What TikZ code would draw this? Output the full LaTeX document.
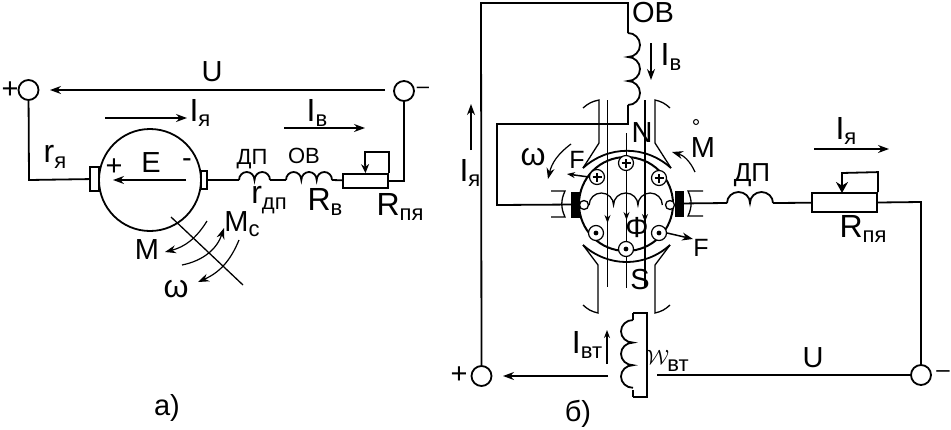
\documentclass[tikz,border=0pt]{standalone}
\usepackage{fontspec}
\setmainfont{Liberation Sans}
\usetikzlibrary{arrows.meta,positioning,calc}
\newcommand{\subtext}[1]{\raisebox{-5.5pt}{\fontsize{22}{22}\selectfont #1}}
\tikzset{
	wire/.style={line width=1.8pt},
	thinline/.style={line width=1.3pt},
	flow/.style={line width=1.2pt, -{Stealth[length=11pt,width=8pt]}},
	flowsmall/.style={line width=1.1pt, -{Stealth[length=8pt,width=6pt]}},
	%
	terminal/.style={
		circle, draw, line width=1.8pt, minimum size=20pt, inner sep=0pt
	},
	brush/.style={
		rectangle, draw, line width=1.6pt, fill=white, inner sep=0pt
	},
	blackbrush/.style={
		rectangle, draw, fill=black, inner sep=0pt, minimum width=8pt, minimum height=25pt
	},
	rheostat/.style={
		rectangle, draw, line width=1.8pt, inner sep=0pt
	},
	conductor/.style={
		circle, draw, line width=1.2pt, minimum size=15pt, inner sep=0pt
	},
	ringnode/.style={
		circle, draw, line width=1.3pt, minimum size=9pt, inner sep=0pt, fill=white
	},
	mylabel/.style={inner sep=0pt, font=\fontsize{29}{31}\selectfont},
	biglabel/.style={inner sep=0pt, font=\fontsize{32}{34}\selectfont},
	smalllabel/.style={inner sep=0pt, font=\fontsize{22}{24}\selectfont},
	forcelabel/.style={inner sep=0pt, font=\fontsize{25}{27}\selectfont}
}
\begin{document}
\begin{tikzpicture}[x=1pt,y=1pt]
    \useasboundingbox (0,0) rectangle (951,-429);
    % a) scheme
    \node(plusA)[terminal] at (28.5,-90) {};
    \node(minusA)[terminal] at (404,-91) {};
    \node(motor)[circle, draw, line width=1.8pt, minimum size=102pt, inner sep=0pt] at (150,-180) {};
    \node(brushAl)[brush, minimum width=9pt, minimum height=24pt] at (94.5,-179) {};
    \node(brushAr)[brush, minimum width=6pt, minimum height=18pt] at (204,-180) {};
    \node(rheoA)[rheostat, minimum width=45pt, minimum height=14pt] at (365.5,-181) {};
    \coordinate(cornerAl) at (29,-180);
    \coordinate(cornerAr) at (404,-181);
    \coordinate(dpAin) at (239,-180);
    \coordinate(dpAout) at (270,-180);
    \coordinate(ovAin) at (286,-180);
    \coordinate(ovAout) at (332,-180);
    \coordinate(uAstart) at (385,-90);
    \coordinate(uAend) at (50,-90);
    \draw[wire] (plusA) -- (cornerAl) -- (brushAl);
    \draw[wire] (brushAr) -- (dpAin);
    \draw[wire] (dpAin) foreach \i in {1,2} {arc[start angle=180, end angle=0, x radius=7.75, y radius=8]};
    \draw[wire] (dpAout) -- (ovAin);
    \draw[wire] (ovAin) foreach \i in {1,2,3} {arc[start angle=180, end angle=0, x radius=7.67, y radius=8]};
    \draw[wire] (ovAout) -- (rheoA);
    \draw[wire] (rheoA) -- (cornerAr) -- (minusA);
    \draw[wire] (rheoA.north east) -- ++(0,21) -| (365,-165);
    \draw[-{Stealth[length=9pt,width=8pt]}, wire] (365,-162) -- (rheoA.north);
    \draw[flow] (uAstart) -- (uAend);
    \draw[flow] (105,-118) -- (187,-118);
    \draw[flow] (284,-128) -- (365,-128);
    \draw[flow] (186,-180) -- (113,-180);
    \draw[thinline] (171,-217) -- (243,-285);
    \draw[flow] (207,-221) to[bend left=22] (165,-252);
    \draw[flow] (182,-265) to[bend right=30] (224,-228);
    \draw[flow] (239,-240) to[bend left=22] (198,-282);
    \node(lplusA)[mylabel] at (10,-90) {+};
    \node(lminusA)[inner sep=0pt, font=\fontsize{22}{24}\selectfont] at (423,-90) {–};
    \node(lUa)[mylabel] at (212,-72) {U};
    \node(lIya)[biglabel] at (200,-113) {I\subtext{я}};
    \node(lIva)[biglabel] at (317,-113) {I\subtext{в}};
    \node(lrya)[biglabel] at (55,-157) {r\subtext{я}};
    \node(lE)[mylabel] at (151,-163) {E};
    \node(lEp)[mylabel] at (114,-167) {+};
    \node(lEm)[mylabel] at (187,-163) {-};
    \node(ldpa)[smalllabel] at (252,-159) {ДП};
    \node(lova)[smalllabel] at (304,-156) {ОВ};
    \node(lrdp)[biglabel] at (269,-200) {r\subtext{дп}};
    \node(lrv)[biglabel] at (325,-202) {R\subtext{в}};
    \node(lrpya)[biglabel] at (400,-207) {R\subtext{пя}};
    \node(lMa)[mylabel] at (147,-250) {M};
    \node(lMc)[mylabel] at (242,-224) {M\subtext{с}};
    \node(lwa)[biglabel] at (176,-289) {ω};
    \node(la)[mylabel] at (167,-408) {а)};
    % b) scheme
    \node(plusB)[terminal] at (481.5,-376) {};
    \node(minusB)[terminal] at (921,-375) {};
    \node(rotor)[circle, draw, line width=2pt, minimum size=94pt, inner sep=0pt] at (626,-204) {};
    \node(brushBl)[blackbrush] at (575,-204.5) {};
    \node(brushBr)[blackbrush] at (679,-203.5) {};
    \node(ringBl)[ringnode] at (584,-205) {};
    \node(ringBr)[ringnode] at (670,-205) {};
    \node(rheoB)[rheostat, minimum width=65pt, minimum height=19pt] at (844.5,-202.5) {};
    \coordinate(topL) at (481,-3);
    \coordinate(topR) at (628,-3);
    \coordinate(ovBin) at (628,-33);
    \coordinate(ovBout) at (628,-105);
    \coordinate(loopR) at (628,-124);
    \coordinate(loopL) at (497,-124);
    \coordinate(loopB) at (497,-205);
    \coordinate(dpBin) at (727,-203);
    \coordinate(dpBout) at (773,-203);
    \coordinate(cornerB) at (921,-202);
    \coordinate(serTop) at (647,-313);
    \coordinate(serBot) at (647,-397);
    \coordinate(serIn) at (633,-313);
    \coordinate(serOut) at (633,-397);
    \coordinate(uBstart) at (608,-376);
    \coordinate(uBend) at (503,-376);
    \coordinate(uBline) at (657,-375);
    \draw[wire] (plusB) -- (topL) -- (topR) -- (ovBin);
    \draw[wire] (ovBin) foreach \i in {1,2,3} {arc[start angle=90, end angle=-90, x radius=12, y radius=12]};
    \draw[wire] (ovBout) -- (loopR) -- (loopL) -- (loopB) -- (brushBl);
    \draw[wire] (brushBr) -- (dpBin);
    \draw[wire] (dpBin) foreach \i in {1,2} {arc[start angle=180, end angle=0, x radius=11.5, y radius=11]};
    \draw[wire] (dpBout) -- (rheoB);
    \draw[wire] (rheoB.east) -- (cornerB) -- (minusB);
    \draw[wire] (rheoB.north east) -- ++(0,20) -- (842,-173) -- (842,-178);
    \draw[-{Stealth[length=11pt,width=12pt]}, wire] (842,-176) -- (842,-193);
    \draw[thinline] (ringBl.east) foreach \i in {1,2,3} {arc[start angle=180, end angle=0, x radius=12.2, y radius=12]};
    \draw[wire] (serIn) -- (serTop) -- (serBot) -- (serOut);
    \draw[wire] (serIn) -- ++(0,-7);
    \draw[wire] (633,-320) foreach \i in {1,2,3} {arc[start angle=90, end angle=270, x radius=12, y radius=11.3]};
    \draw[wire] (serOut) -- ++(0,7);
    \draw[thinline] (uBline) -- (minusB);
    \draw[flow] (uBstart) -- (uBend);
    % poles
    \draw[thinline] (583,-108) to[bend left=15] (599,-100) -- (599,-143) -- (583,-168);
    \draw[thinline] (670,-108) to[bend right=15] (655,-100) -- (655,-143) -- (671,-168);
    \draw[wire] (583,-168) to[bend left=42] (671,-168);
    \draw[thinline] (583,-245) -- (598,-265) -- (598,-313) to[bend left=15] (583,-305);
    \draw[thinline] (670,-245) -- (655,-265) -- (655,-313) to[bend right=15] (670,-305);
    \draw[wire] (583,-245) to[bend right=42] (670,-245);
    \draw[thinline] (551,-191) -- (565,-191) to[bend right=25] (565,-217) -- (551,-217);
    \draw[thinline] (703,-191) -- (688,-191) to[bend left=25] (688,-216) -- (703,-216);
    % flux lines
    \draw[flowsmall] (607.5,-100) -- (607.5,-223);
    \draw[thinline] (607.5,-220) -- (607.5,-287);
    \draw[flowsmall] (626.5,-133) -- (626.5,-220);
    \draw[thinline] (626.5,-217) -- (626.5,-288);
    \draw[flowsmall] (645,-100) -- (645,-222);
    \draw[thinline] (645,-219) -- (645,-287);
    % conductors
    \foreach \name/\cx/\cy in {cA/597/177, cB/626/163, cC/659/178}{
        \node(\name)[conductor, fill=white] at (\cx,-\cy) {};
        \draw[line width=1.3pt] ($(\name)+(-4.5,0)$) -- ($(\name)+(4.5,0)$) ($(\name)+(0,-4.5)$) -- ($(\name)+(0,4.5)$);
    }
    \foreach \name/\cx/\cy in {cD/596/233, cE/626/249, cF/659/233}{
        \node(\name)[conductor, fill=white] at (\cx,-\cy) {};
        \fill (\name) circle (2.4);
    }
    % forces and torques
    \draw[flowsmall, line width=1.5pt] (cA.west) -- (567,-174);
    \draw[flow, line width=1.5pt] (cF.east) -- (693,-239);
    \draw[flow] (571,-144) to[bend right=20] (548,-179);
    \draw[flow] (695,-172) to[bend right=25] (672,-152);
    \draw[flow] (814,-149) -- (889,-149);
    \draw[flow] (651,-43) -- (651,-80);
    \draw[flow] (471,-150) -- (471,-104);
    \draw[flowsmall, line width=1.4pt] (607,-364) -- (607,-330);
    \node(lov)[mylabel] at (653,-13) {ОВ};
    \node(liv)[biglabel] at (671,-57) {I\subtext{в}};
    \node(lIyb)[biglabel] at (470,-173) {I\subtext{я}};
    \node(lN)[mylabel] at (642,-133) {N};
    \node(lS)[mylabel] at (640,-280) {S};
    \node(lPhi)[mylabel] at (637,-228) {Φ};
    \node(lFl)[forcelabel] at (577,-160) {F};
    \node(lFr)[forcelabel] at (701,-248) {F};
    \node(lwb)[biglabel] at (533,-157) {ω};
    \node(lMb)[mylabel] at (703,-148) {M};
    \node(ldeg)[circle, draw, line width=1pt, minimum size=5pt, inner sep=0pt] at (696,-122) {};
    \node(ldpb)[inner sep=0pt, font=\fontsize{26}{28}\selectfont] at (752,-175) {ДП};
    \node(lIyr)[biglabel] at (846,-131) {I\subtext{я}};
    \node(lrpyb)[biglabel] at (863,-229) {R\subtext{пя}};
    \node(lIvt)[biglabel] at (587,-345) {I\subtext{вт}};
    \node(lwvt)[inner sep=0pt, font=\fontsize{21}{23}\selectfont] at (658,-357) {$\mathcal{W}$};
    \node(lvt)[smalllabel] at (678,-366) {вт};
    \node(lUb)[mylabel] at (813,-358) {U};
    \node(lplusB)[mylabel] at (459,-375) {+};
    \node(lminusB)[inner sep=0pt, font=\fontsize{24}{26}\selectfont] at (943,-374) {–};
    \node(lb)[mylabel] at (578,-414) {б)};
\end{tikzpicture}
\end{document}
